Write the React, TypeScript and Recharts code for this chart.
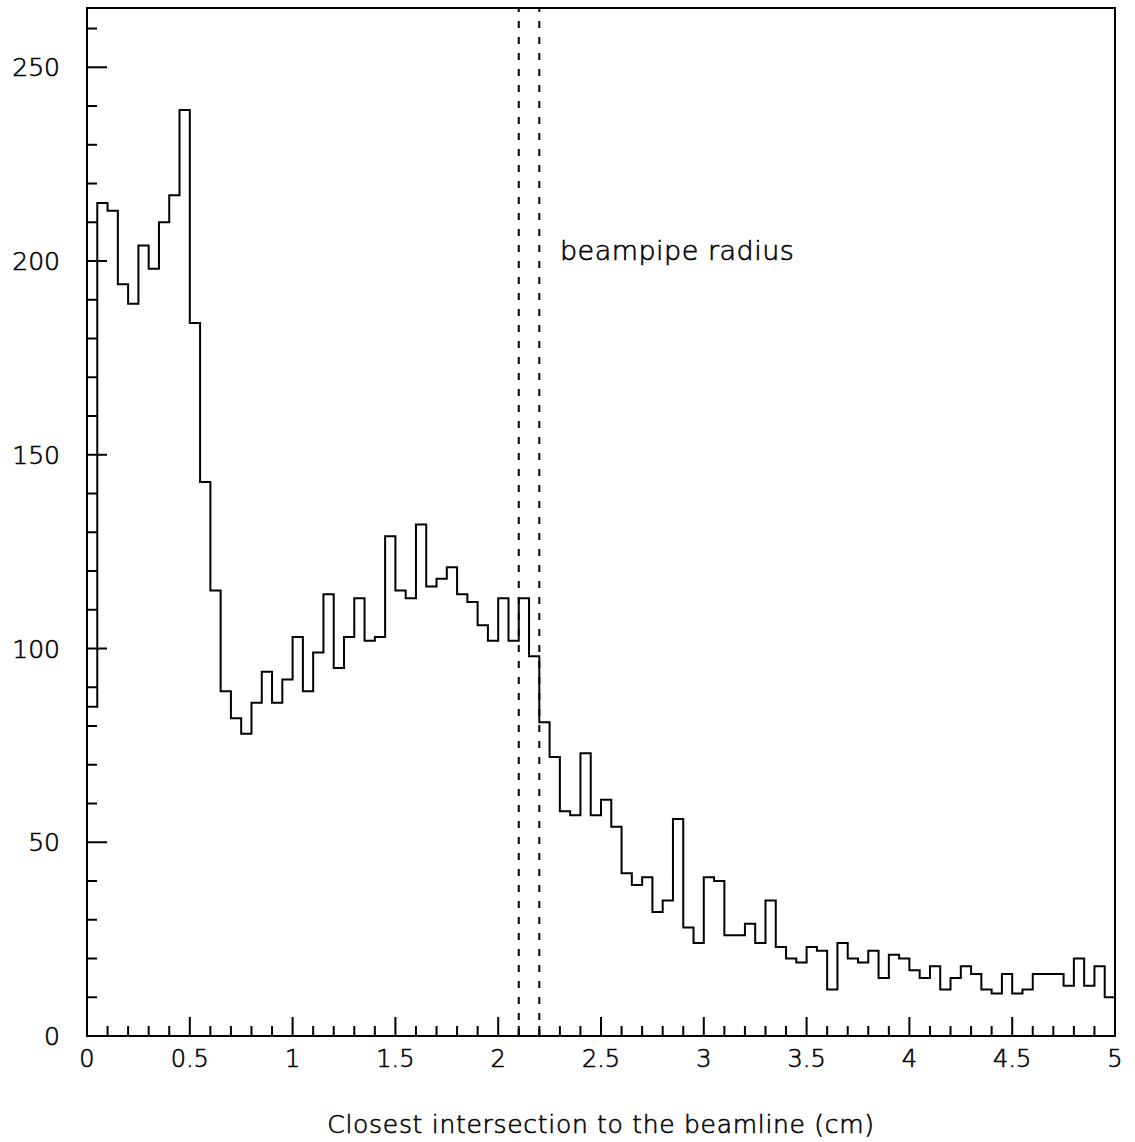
import React from "react";
import {
  LineChart,
  Line,
  XAxis,
  YAxis,
  ReferenceLine,
  ReferenceArea,
  ReferenceDot,
} from "recharts";

// histogram of the closest intersection to the beamline, 0.05 cm bins
const BIN_WIDTH = 0.05;
const COUNTS = [
  85, 215, 213, 194, 189, 204, 198, 210, 217, 239,
  184, 143, 115, 89, 82, 78, 86, 94, 86, 92,
  103, 89, 99, 114, 95, 103, 113, 102, 103, 129,
  115, 113, 132, 116, 118, 121, 114, 112, 106, 102,
  113, 102, 113, 98, 81, 72, 58, 57, 73, 57,
  61, 54, 42, 39, 41, 32, 35, 56, 28, 24,
  41, 40, 26, 26, 29, 24, 35, 23, 20, 19,
  23, 22, 12, 24, 20, 19, 22, 15, 21, 20,
  17, 15, 18, 12, 15, 18, 16, 12, 11, 16,
  11, 12, 16, 16, 16, 13, 20, 13, 18, 10,
];

const X_MAX = 5;
const Y_MAX = 265.3;
const X_LABELS = [0, 0.5, 1, 1.5, 2, 2.5, 3, 3.5, 4, 4.5, 5];
const X_TICKS = Array.from({ length: 51 }, (_, i) => +(i * 0.1).toFixed(1));
const Y_LABELS = [0, 50, 100, 150, 200, 250];
const Y_TICKS = Array.from({ length: 27 }, (_, i) => i * 10);

const BEAMPIPE_LINES = [2.1, 2.2];
const BEAMPIPE_TEXT = { x: 2.3, y: 200.2, text: "beampipe radius" };

const FONT = "'DejaVu Sans', sans-serif";
const INK = "#000";

// thin font, thickened a little with a stroke so it reads like the original
const textStyle = {
  fontFamily: FONT,
  fontWeight: 200,
  fill: INK,
  stroke: INK,
  strokeWidth: 0.6,
};

// step outline: one point per lower bin edge, plus the closing edge
const data = [
  ...COUNTS.map((count, i) => ({ x: +(i * BIN_WIDTH).toFixed(2), count })),
  { x: X_MAX, count: COUNTS[COUNTS.length - 1] },
];

const isMajor = (v: number, majors: number[]) =>
  majors.some((m) => Math.abs(m - v) < 1e-6);

const XTick = ({ x, y, payload }: any) => {
  const v = Number(payload.value);
  const major = isMajor(v, X_LABELS);
  return (
    <g>
      <line x1={x} x2={x} y1={y} y2={y - (major ? 19 : 10)} stroke={INK} strokeWidth={2} />
      {major && (
        <text x={x} y={y + 31} textAnchor="middle" fontSize={24} {...textStyle}>
          {String(v)}
        </text>
      )}
    </g>
  );
};

const YTick = ({ x, y, payload }: any) => {
  const v = Number(payload.value);
  const major = isMajor(v, Y_LABELS);
  return (
    <g>
      <line x1={x} x2={x + (major ? 20 : 10)} y1={y} y2={y} stroke={INK} strokeWidth={2} />
      {major && (
        <text x={x - 27} y={y + 9} textAnchor="end" fontSize={25} {...textStyle}>
          {String(v)}
        </text>
      )}
    </g>
  );
};

export default function App() {
  return (
    <div
      style={{
        position: "absolute",
        left: 0,
        top: 0,
        width: 1135,
        height: 1142,
        background: "#fff",
      }}
    >
      <LineChart
        width={1135}
        height={1142}
        data={data}
        margin={{ top: 8, right: 20, bottom: 0, left: 0 }}
      >
        <XAxis
          dataKey="x"
          type="number"
          domain={[0, X_MAX]}
          ticks={X_TICKS}
          interval={0}
          height={106}
          tickSize={0}
          tickMargin={0}
          tickLine={false}
          axisLine={{ stroke: INK, strokeWidth: 2 }}
          tick={<XTick />}
          allowDataOverflow
          label={{
            value: "Closest intersection to the beamline (cm)",
            position: "insideBottom",
            offset: 9,
            fontSize: 25,
            letterSpacing: 0.7,
            ...textStyle,
          }}
        />
        <YAxis
          type="number"
          domain={[0, Y_MAX]}
          ticks={Y_TICKS}
          interval={0}
          width={87}
          tickSize={0}
          tickMargin={0}
          tickLine={false}
          axisLine={{ stroke: INK, strokeWidth: 2 }}
          tick={<YTick />}
          allowDataOverflow
        />
        <ReferenceArea
          x1={0}
          x2={X_MAX}
          y1={0}
          y2={Y_MAX}
          fill="none"
          stroke={INK}
          strokeWidth={2}
          fillOpacity={0}
        />
        {BEAMPIPE_LINES.map((bx) => (
          <ReferenceLine
            key={bx}
            x={bx}
            stroke={INK}
            strokeWidth={2}
            strokeDasharray="7 9"
          />
        ))}
        <ReferenceDot
          x={BEAMPIPE_TEXT.x}
          y={BEAMPIPE_TEXT.y}
          r={0}
          shape={(p: any) => (
            <text x={p.cx} y={p.cy} fontSize={27} letterSpacing={0.5} {...textStyle}>
              {BEAMPIPE_TEXT.text}
            </text>
          )}
        />
        <Line
          type="stepAfter"
          dataKey="count"
          stroke={INK}
          strokeWidth={2}
          dot={false}
          activeDot={false}
          isAnimationActive={false}
        />
      </LineChart>
    </div>
  );
}
